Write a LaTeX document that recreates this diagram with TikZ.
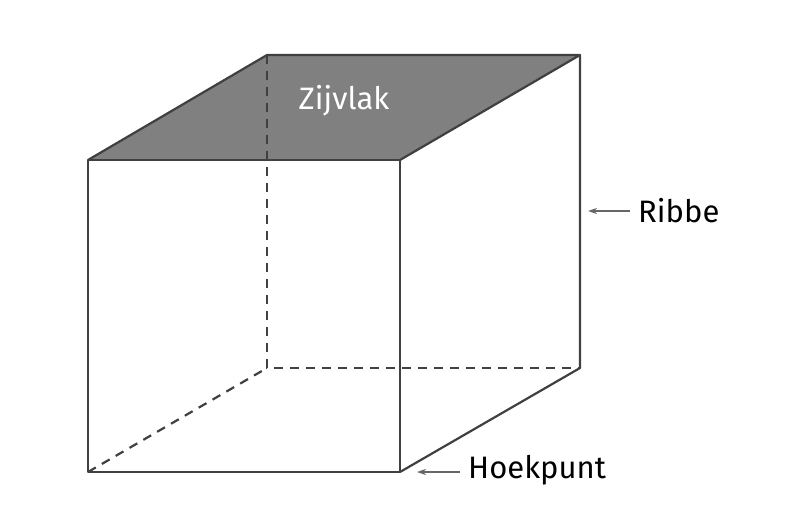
\documentclass[tikz,border=0pt]{standalone}
\usepackage{fontspec}
\setmainfont{Fira Sans}
\usetikzlibrary{arrows.meta}
\begin{document}
\begin{tikzpicture}[x=1pt,y=-1pt,
 edge/.style={draw=black!75,line width=2.2pt},
 hidden/.style={edge,dash pattern=on 9pt off 7pt},
 lbl/.style={font=\fontsize{31}{34}\selectfont,inner sep=0pt,anchor=west},
 ptr/.style={draw=black!60,line width=1.2pt,-{Stealth[length=9pt,width=6pt]}}]
\useasboundingbox (0,0) rectangle (800,529);
\coordinate (A) at (88,472); \coordinate (B) at (400,472);
\coordinate (C) at (400,160); \coordinate (D) at (88,160);
\coordinate (E) at (267,368); \coordinate (F) at (580,368);
\coordinate (G) at (580,55); \coordinate (H) at (267,55);
\fill[black!50] (D) -- (C) -- (G) -- (H) -- cycle;
\draw[hidden] (H) -- (E) -- (F);
\draw[hidden] (A) -- (E);
\draw[edge,line join=round] (A) -- (B) -- (C) -- (D) -- cycle;
\draw[edge,line join=round] (D) -- (H) -- (G) -- (C);
\draw[edge,line join=round] (G) -- (F) -- (B);
\node[lbl,text=white,anchor=center] (z) at (344,101) {Zijvlak};
\node[lbl] (r) at (638,211) {Ribbe};
\node[lbl] (h) at (468,470) {Hoekpunt};
\coordinate (rt) at (588,211); \coordinate (ht) at (417,472);
\draw[ptr] ([xshift=-8pt]r.west) -- (rt);
\draw[ptr] ([xshift=-8pt]h.west|-ht) -- (ht);
\end{tikzpicture}
\end{document}
